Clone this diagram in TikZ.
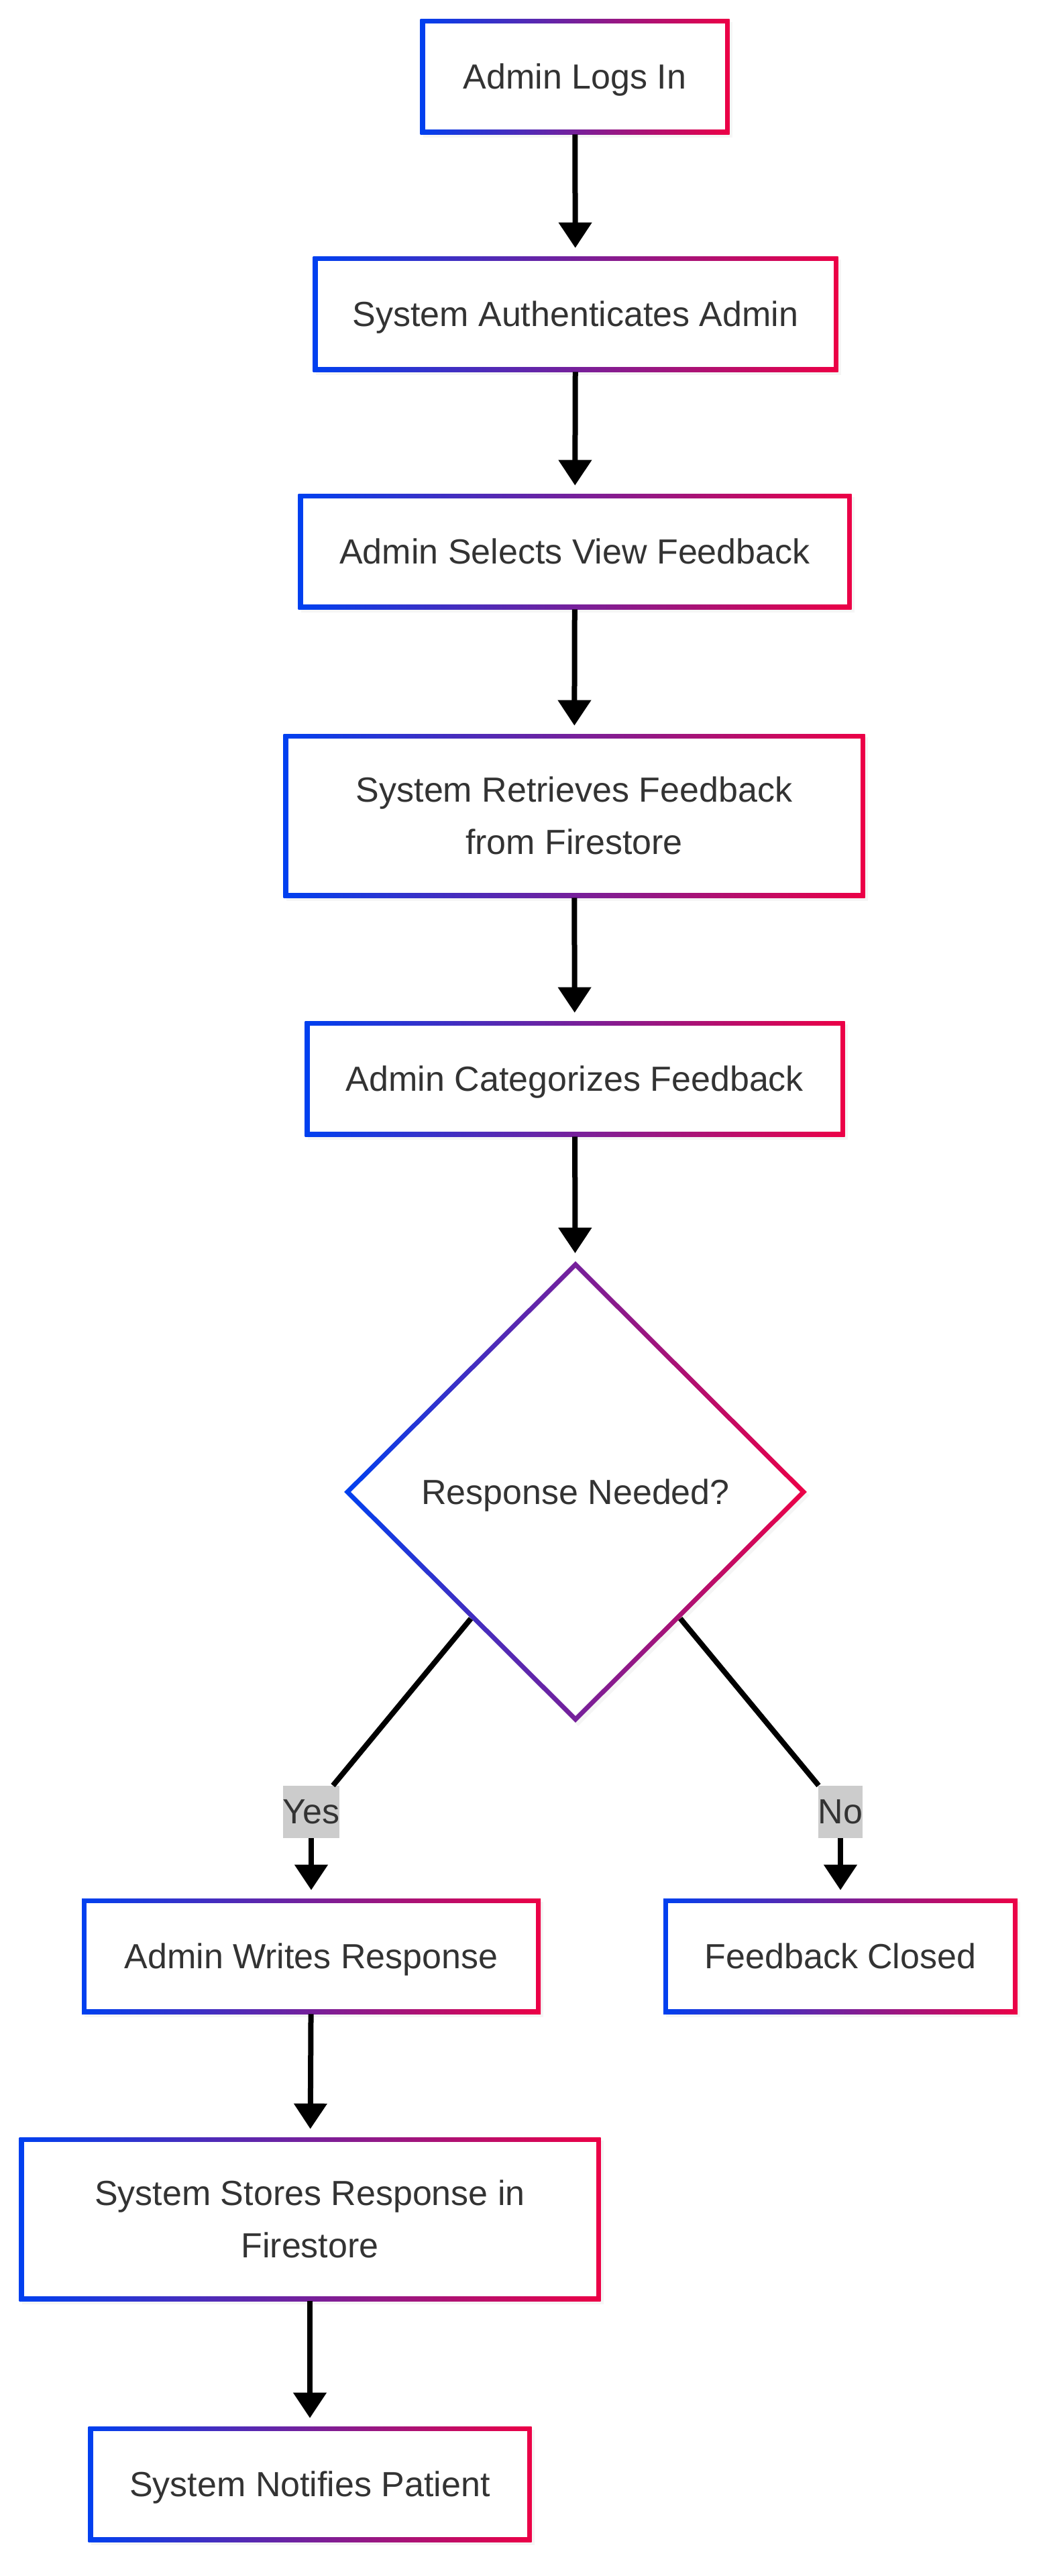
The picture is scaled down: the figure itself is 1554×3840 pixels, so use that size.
\documentclass[tikz,border=0pt]{standalone}
\usepackage{fontspec}
\setmainfont{Liberation Sans}
\usepackage{tikz}
\usepackage{xcolor}
\usetikzlibrary{shapes.geometric,arrows.meta,shadows}

\definecolor{gradblue}{HTML}{0040F0}
\definecolor{gradred}{HTML}{EC0046}
\definecolor{txtgray}{HTML}{333333}
\definecolor{lblgray}{HTML}{CCCCCC}

\tikzset{
    box/.style={rectangle, minimum width=#1, minimum height=86pt, align=center, inner sep=0pt,
        text depth=0pt,
        left color=gradblue, right color=gradred,
        drop shadow={shadow xshift=2pt, shadow yshift=-2.5pt, opacity=0.08},
        path picture={\fill[white] ([shift={(3.5pt,3.5pt)}]path picture bounding box.south west)
            rectangle ([shift={(-3.5pt,-3.5pt)}]path picture bounding box.north east);}},
    tallbox/.style={box=#1, minimum height=122pt},
    decision/.style={diamond, aspect=1, minimum width=345pt, minimum height=344pt, inner sep=0pt,
        text depth=0pt,
        left color=gradblue, right color=gradred,
        drop shadow={shadow xshift=2pt, shadow yshift=-2.5pt, opacity=0.08},
        path picture={\fill[white] ([yshift=-5pt]path picture bounding box.north)
            -- ([xshift=-5pt]path picture bounding box.east)
            -- ([yshift=5pt]path picture bounding box.south)
            -- ([xshift=5pt]path picture bounding box.west) -- cycle;}},
    lbl/.style={fill=lblgray, inner xsep=0pt, inner ysep=0pt, minimum height=39pt},
    flow/.style={draw=black, line width=4pt, -{Triangle[length=19pt, width=24pt]}, shorten >=6pt},
    link/.style={draw=black, line width=4pt}
}

\begin{document}
\begin{tikzpicture}[x=0.5pt, y=-0.5pt,
    every node/.style={text=txtgray, font=\fontsize{26}{39}\selectfont}]

    \useasboundingbox[fill=white] (0,0) rectangle (1554,3840);

    \node[box=230.5pt]     (login)    at (857, 114)  {Admin Logs In};
    \node[box=391.5pt]     (auth)     at (858, 468)  {System Authenticates Admin};
    \node[box=412.5pt]     (select)   at (857, 822)  {Admin Selects View Feedback};
    \node[tallbox=433.5pt] (retrieve) at (856, 1216) {System Retrieves Feedback\\from Firestore};
    \node[box=402.5pt]     (sort)     at (857, 1608) {Admin Categorizes Feedback};
    \node[decision]        (needed)   at (858, 2224) {Response Needed?};
    \node[box=342pt]       (write)    at (464, 2916) {Admin Writes Response};
    \node[box=264pt]       (closed)   at (1253, 2916) {Feedback Closed};
    \node[tallbox=433.5pt] (store)    at (462, 3308) {System Stores Response in\\Firestore};
    \node[box=330.5pt]     (notify)   at (462, 3703) {System Notifies Patient};

    \node[lbl] (yes) at (464, 2701) {Yes};
    \node[lbl] (no)  at (1253, 2701) {No};

    \path[flow]
        (login) edge (auth)
        (auth) edge (select)
        (select) edge (retrieve)
        (retrieve) edge (sort)
        (sort) edge (needed)
        (yes) edge (write)
        (no) edge (closed)
        (write) edge (store)
        (store) edge (notify);

    \path[link]
        (needed) edge (yes)
        (needed) edge (no);

\end{tikzpicture}
\end{document}
